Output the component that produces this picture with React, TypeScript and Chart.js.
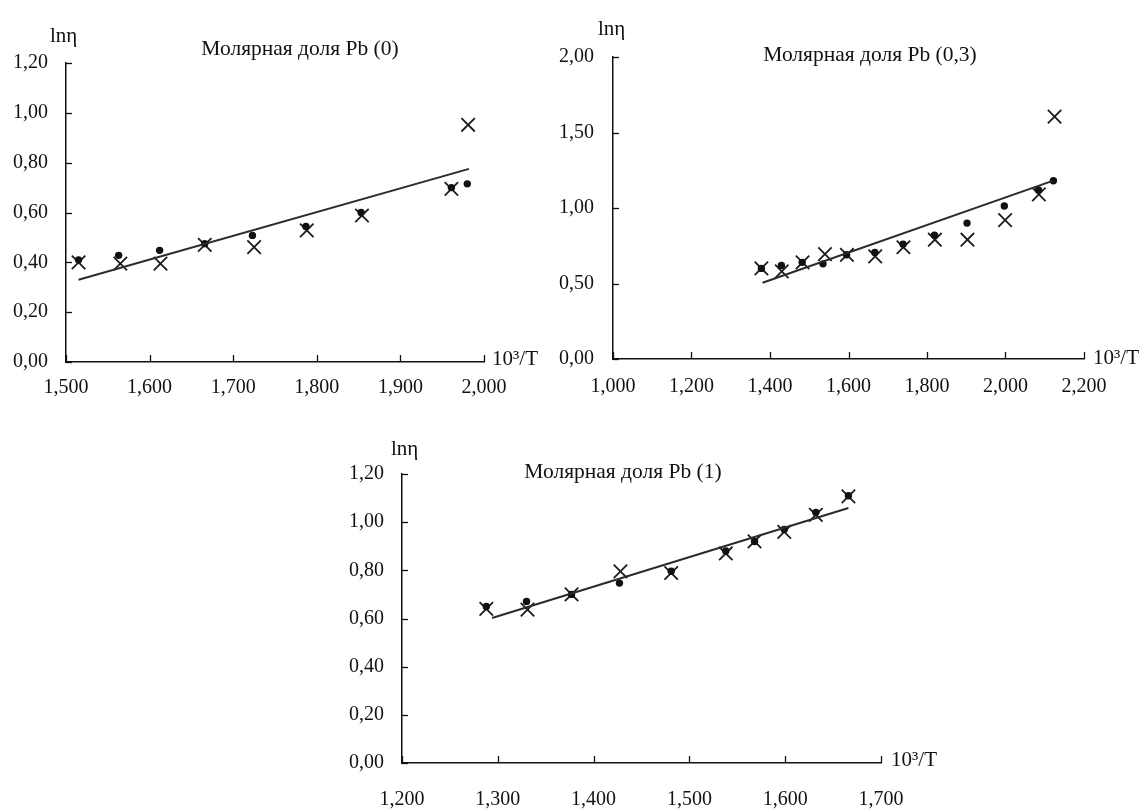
import React, { useEffect, useRef } from "react";
import { Chart, registerables } from "chart.js";

Chart.register(...registerables);

const FONT = '"Liberation Serif", "Times New Roman", serif';

// ---------- Panel 1: Молярная доля Pb (0) ----------
const dotsX1 = [1.515, 1.563, 1.612, 1.666, 1.723, 1.787, 1.853, 1.961, 1.98];
const dotsY1 = [0.41, 0.428, 0.448, 0.475, 0.508, 0.544, 0.6, 0.7, 0.715];
const crossX1 = [1.515, 1.565, 1.613, 1.666, 1.725, 1.788, 1.854, 1.961, 1.981];
const crossY1 = [0.4, 0.395, 0.395, 0.47, 0.461, 0.528, 0.588, 0.695, 0.952];
const trendX1 = [1.515, 1.982];
const trendY1 = [0.33, 0.775];
const xTicks1 = [1.5, 1.6, 1.7, 1.8, 1.9, 2.0];
const xLabels1 = ["1,500", "1,600", "1,700", "1,800", "1,900", "2,000"];
const yTicks1 = [0, 0.2, 0.4, 0.6, 0.8, 1.0, 1.2];
const yLabels1 = ["0,00", "0,20", "0,40", "0,60", "0,80", "1,00", "1,20"];

// ---------- Panel 2: Молярная доля Pb (0,3) ----------
const dotsX2 = [1.378, 1.429, 1.482, 1.535, 1.595, 1.667, 1.739, 1.819, 1.902, 1.997, 2.084, 2.122];
const dotsY2 = [0.6, 0.62, 0.64, 0.63, 0.69, 0.705, 0.76, 0.82, 0.9, 1.013, 1.12, 1.18];
const crossX2 = [1.378, 1.43, 1.483, 1.54, 1.596, 1.668, 1.74, 1.82, 1.903, 1.999, 2.085, 2.125];
const crossY2 = [0.6, 0.58, 0.64, 0.695, 0.69, 0.68, 0.74, 0.79, 0.79, 0.92, 1.09, 1.605];
const trendX2 = [1.381, 2.12];
const trendY2 = [0.505, 1.18];
const xTicks2 = [1.0, 1.2, 1.4, 1.6, 1.8, 2.0, 2.2];
const xLabels2 = ["1,000", "1,200", "1,400", "1,600", "1,800", "2,000", "2,200"];
const yTicks2 = [0, 0.5, 1.0, 1.5, 2.0];
const yLabels2 = ["0,00", "0,50", "1,00", "1,50", "2,00"];

// ---------- Panel 3: Молярная доля Pb (1) ----------
const dotsX3 = [1.288, 1.33, 1.377, 1.427, 1.481, 1.538, 1.568, 1.599, 1.632, 1.666];
const dotsY3 = [0.65, 0.671, 0.7, 0.747, 0.796, 0.88, 0.92, 0.97, 1.04, 1.11];
const crossX3 = [1.288, 1.331, 1.377, 1.428, 1.481, 1.538, 1.568, 1.599, 1.632, 1.666];
const crossY3 = [0.64, 0.637, 0.7, 0.796, 0.789, 0.87, 0.92, 0.96, 1.03, 1.107];
const trendX3 = [1.294, 1.666];
const trendY3 = [0.602, 1.059];
const xTicks3 = [1.2, 1.3, 1.4, 1.5, 1.6, 1.7];
const xLabels3 = ["1,200", "1,300", "1,400", "1,500", "1,600", "1,700"];
const yTicks3 = [0, 0.2, 0.4, 0.6, 0.8, 1.0, 1.2];
const yLabels3 = ["0,00", "0,20", "0,40", "0,60", "0,80", "1,00", "1,20"];

const titles = ["Молярная доля Pb (0)", "Молярная доля Pb (0,3)", "Молярная доля Pb (1)"];
const yAxisName = "lnη";
const xAxisName = "10³/T";

const decorPlugin = {
  id: "decor",
  afterDraw(chart: any, _args: any, o: any) {
    const { ctx, chartArea, scales } = chart;
    const xs = scales.x;
    const ys = scales.y;
    ctx.save();
    ctx.strokeStyle = "#111";
    ctx.lineWidth = 1.3;
    xs.ticks.forEach((t: any) => {
      const px = Math.round(xs.getPixelForValue(t.value)) + 0.5;
      ctx.beginPath();
      ctx.moveTo(px, chartArea.bottom);
      ctx.lineTo(px, chartArea.bottom - 7);
      ctx.stroke();
    });
    ys.ticks.forEach((t: any) => {
      const py = Math.round(ys.getPixelForValue(t.value)) + 0.5;
      ctx.beginPath();
      ctx.moveTo(chartArea.left, py);
      ctx.lineTo(chartArea.left + 6, py);
      ctx.stroke();
    });
    ctx.fillStyle = "#111";
    ctx.textBaseline = "alphabetic";
    ctx.font = `21.5px ${FONT}`;
    ctx.textAlign = "center";
    ctx.fillText(o.title, o.titleX, o.titleY);
    ctx.font = `21px ${FONT}`;
    ctx.textAlign = "left";
    ctx.fillText(o.yName, o.yNameX, o.yNameY);
    ctx.fillText(o.xName, o.xNameX, o.xNameY);
    ctx.restore();
  },
};

type PanelProps = {
  left: number;
  top: number;
  w: number;
  h: number;
  area: { left: number; right: number; top: number; bottom: number };
  xMin: number;
  xMax: number;
  yMin: number;
  yMax: number;
  dotsX: number[];
  dotsY: number[];
  crossX: number[];
  crossY: number[];
  trendX: number[];
  trendY: number[];
  xTicks: number[];
  xLabels: string[];
  yTicks: number[];
  yLabels: string[];
  yPad: number;
  xPad: number;
  decor: any;
};

function Panel(p: PanelProps) {
  const ref = useRef<HTMLCanvasElement | null>(null);
  useEffect(() => {
    if (!ref.current) return;
    const chart = new Chart(ref.current, {
      type: "scatter",
      data: {
        datasets: [
          {
            label: "trend",
            data: p.trendX.map((x, i) => ({ x, y: p.trendY[i] })),
            showLine: true,
            borderColor: "#2b2b2b",
            borderWidth: 2,
            pointRadius: 0,
            fill: false,
          },
          {
            label: "dots",
            data: p.dotsX.map((x, i) => ({ x, y: p.dotsY[i] })),
            pointStyle: "circle",
            pointRadius: 3.7,
            backgroundColor: "#111",
            borderColor: "#111",
            borderWidth: 0,
          },
          {
            label: "crosses",
            data: p.crossX.map((x, i) => ({ x, y: p.crossY[i] })),
            pointStyle: "crossRot",
            pointRadius: 9.5,
            backgroundColor: "transparent",
            borderColor: "#1c1c1c",
            borderWidth: 1.8,
          },
        ],
      },
      options: {
        animation: false,
        responsive: false,
        maintainAspectRatio: false,
        events: [],
        layout: {
          padding: { left: 0, top: p.area.top, right: p.w - p.area.right, bottom: 0 },
        },
        plugins: {
          legend: { display: false },
          tooltip: { enabled: false },
          title: { display: false },
          decor: p.decor,
        } as any,
        scales: {
          x: {
            type: "linear",
            min: p.xMin,
            max: p.xMax,
            afterFit: (s: any) => {
              s.height = p.h - p.area.bottom;
            },
            afterBuildTicks: (s: any) => {
              s.ticks = p.xTicks.map((v) => ({ value: v }));
            },
            ticks: {
              callback: (_v: any, i: number) => p.xLabels[i],
              font: { family: FONT, size: 20 },
              color: "#111",
              padding: p.xPad,
              maxRotation: 0,
              autoSkip: false,
            },
            grid: { display: false, drawTicks: false },
            border: { display: true, color: "#111", width: 1.5 },
          },
          y: {
            type: "linear",
            min: p.yMin,
            max: p.yMax,
            afterFit: (s: any) => {
              s.width = p.area.left;
            },
            afterBuildTicks: (s: any) => {
              s.ticks = p.yTicks.map((v) => ({ value: v }));
            },
            ticks: {
              callback: (_v: any, i: number) => p.yLabels[i],
              font: { family: FONT, size: 20 },
              color: "#111",
              padding: p.yPad,
              autoSkip: false,
            },
            grid: { display: false, drawTicks: false },
            border: { display: true, color: "#111", width: 1.5 },
          },
        },
      },
      plugins: [decorPlugin as any],
    } as any);
    return () => chart.destroy();
  }, []);
  return (
    <canvas
      ref={ref}
      width={p.w}
      height={p.h}
      style={{ position: "absolute", left: p.left, top: p.top, width: p.w, height: p.h }}
    />
  );
}

export default function App() {
  return (
    <div
      style={{
        position: "absolute",
        left: 0,
        top: 0,
        width: 1143,
        height: 812,
        background: "#fff",
        overflow: "hidden",
      }}
    >
      <Panel
        left={0}
        top={0}
        w={540}
        h={400}
        area={{ left: 66, right: 484, top: 63, bottom: 362 }}
        xMin={1.5}
        xMax={2.0}
        yMin={0}
        yMax={1.2}
        dotsX={dotsX1}
        dotsY={dotsY1}
        crossX={crossX1}
        crossY={crossY1}
        trendX={trendX1}
        trendY={trendY1}
        xTicks={xTicks1}
        xLabels={xLabels1}
        yTicks={yTicks1}
        yLabels={yLabels1}
        yPad={18}
        xPad={14}
        decor={{
          title: titles[0],
          titleX: 300,
          titleY: 55,
          yName: yAxisName,
          yNameX: 50,
          yNameY: 42,
          xName: xAxisName,
          xNameX: 492,
          xNameY: 365,
        }}
      />
      <Panel
        left={540}
        top={0}
        w={603}
        h={400}
        area={{ left: 73, right: 544, top: 57, bottom: 359 }}
        xMin={1.0}
        xMax={2.2}
        yMin={0}
        yMax={2.0}
        dotsX={dotsX2}
        dotsY={dotsY2}
        crossX={crossX2}
        crossY={crossY2}
        trendX={trendX2}
        trendY={trendY2}
        xTicks={xTicks2}
        xLabels={xLabels2}
        yTicks={yTicks2}
        yLabels={yLabels2}
        yPad={19}
        xPad={16}
        decor={{
          title: titles[1],
          titleX: 330,
          titleY: 61,
          yName: yAxisName,
          yNameX: 58,
          yNameY: 35,
          xName: xAxisName,
          xNameX: 553,
          xNameY: 364,
        }}
      />
      <Panel
        left={330}
        top={400}
        w={640}
        h={412}
        area={{ left: 72, right: 551, top: 74, bottom: 363 }}
        xMin={1.2}
        xMax={1.7}
        yMin={0}
        yMax={1.2}
        dotsX={dotsX3}
        dotsY={dotsY3}
        crossX={crossX3}
        crossY={crossY3}
        trendX={trendX3}
        trendY={trendY3}
        xTicks={xTicks3}
        xLabels={xLabels3}
        yTicks={yTicks3}
        yLabels={yLabels3}
        yPad={18}
        xPad={25}
        decor={{
          title: titles[2],
          titleX: 293,
          titleY: 78,
          yName: yAxisName,
          yNameX: 61,
          yNameY: 55,
          xName: xAxisName,
          xNameX: 561,
          xNameY: 366,
        }}
      />
    </div>
  );
}
